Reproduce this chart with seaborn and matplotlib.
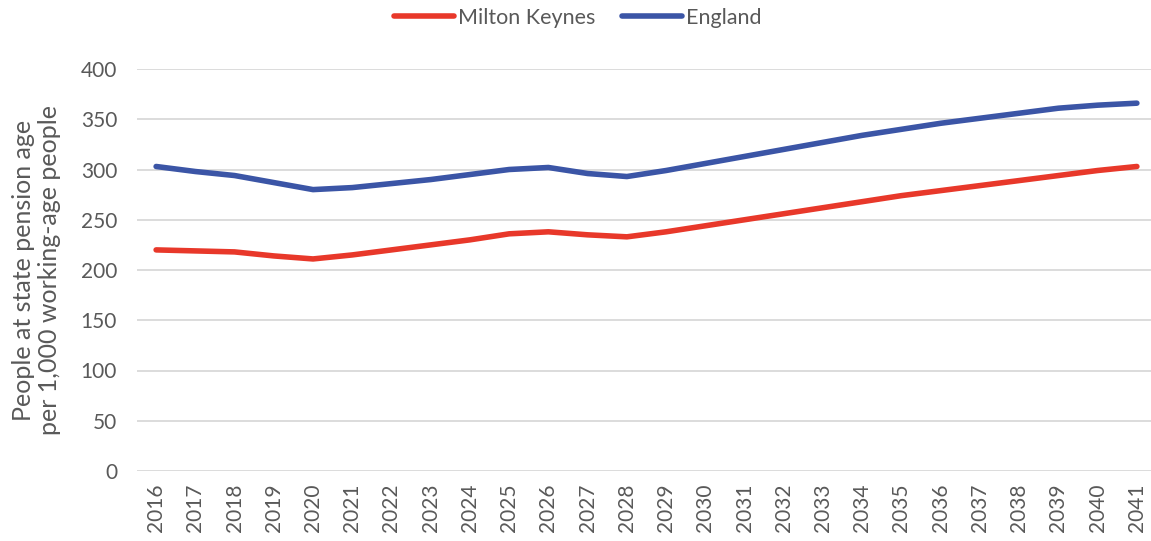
import numpy as np
import pandas as pd
import matplotlib
matplotlib.use('Agg')
import matplotlib.pyplot as plt
import seaborn as sns

# ── Data ──────────────────────────────────────────────────────────────────────
years = list(range(2016, 2042))
milton_keynes = [220, 219, 218, 214, 211, 215, 220, 225, 230, 236, 238, 235, 233,
                 238, 244, 250, 256, 262, 268, 274, 279, 284, 289, 294, 299, 303]
england = [303, 298, 294, 287, 280, 282, 286, 290, 295, 300, 302, 296, 293,
           299, 306, 313, 320, 327, 334, 340, 346, 351, 356, 361, 364, 366]

df = pd.DataFrame({'year': [str(y) for y in years] * 2,
                   'value': milton_keynes + england,
                   'area': ['Milton Keynes'] * len(years) + ['England'] * len(years)})

RED = '#E8382A'; BLUE = '#3B55A6'; GREY = '#595959'

# ── Style ─────────────────────────────────────────────────────────────────────
sns.set_theme(style='white')
plt.rcParams['font.family'] = ['Lato', 'DejaVu Sans']

fig = plt.figure(figsize=(11.51, 5.41), dpi=100)
ax = fig.add_axes([136.5 / 1151, 70 / 541, (1151 - 136.5) / 1151, (471 - 69) / 541])

sns.lineplot(data=df, x='year', y='value', hue='area', palette=[RED, BLUE],
             linewidth=4, ax=ax, sort=False, solid_capstyle='round')

ax.set_ylim(0, 400)
ax.set_xlim(-0.5, 25.36)
ax.set_yticks(np.arange(0, 401, 50))
ax.yaxis.grid(True, color='#D9D9D9', linewidth=1.3)
ax.set_axisbelow(True)
for s in ax.spines.values():
    s.set_visible(False)
ax.tick_params(axis='x', rotation=90, labelsize=15, colors=GREY, length=0, pad=9)
ax.tick_params(axis='y', labelsize=15, colors=GREY, length=0, pad=14)
ax.set_xlabel('')
ax.set_ylabel('People at state pension age\nper 1,000 working-age people',
              fontsize=18, color=GREY, labelpad=14, linespacing=1.15)

leg = ax.legend(loc='upper center', bbox_to_anchor=(0.435, 1.2), ncol=2,
                frameon=False, fontsize=15.5, handlelength=2.8, handletextpad=0.2,
                columnspacing=1.2)
for t in leg.get_texts():
    t.set_color(GREY)

plt.savefig('out.png', dpi=100)
plt.close()
